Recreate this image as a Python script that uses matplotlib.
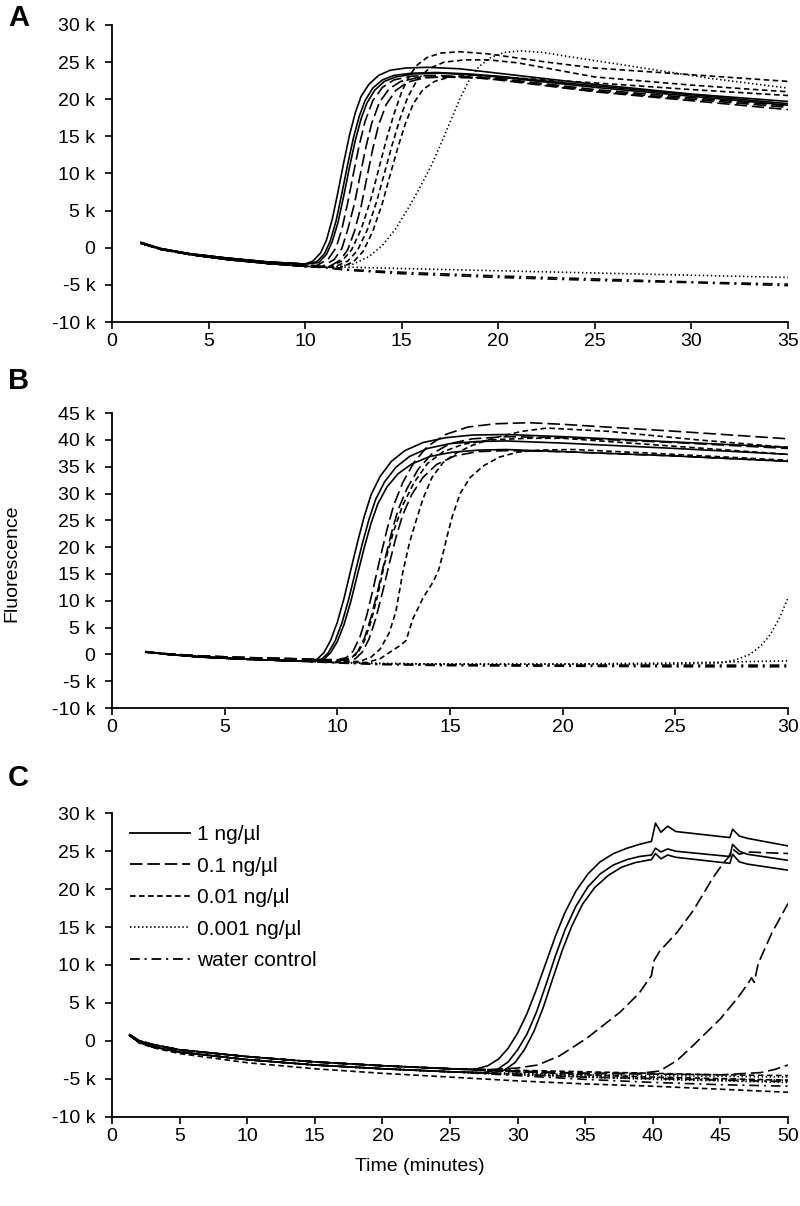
import matplotlib
matplotlib.use("Agg")
import matplotlib.pyplot as plt
from matplotlib.ticker import FuncFormatter, MultipleLocator

plt.rcParams['font.family'] = ['Liberation Sans', 'DejaVu Sans']
plt.rcParams['lines.scale_dashes'] = False

# fluorescence values in thousands, time in minutes

# ---------- panel A ----------
a_base_1 = [(1.5, 0.7), (2.5, -0.1), (4, -0.8), (6, -1.4), (8, -1.9), (10, -2.2)]
a_base_2 = [(1.5, 0.6), (2.5, -0.2), (4, -0.9), (6, -1.6), (8, -2.1), (10, -2.5)]

a_solid_1 = a_base_1 + [(10.4, -1.8), (10.8, -0.7), (11.1, 1.0), (11.4, 3.8), (11.7, 7.5), (12.0, 11.5),
                        (12.3, 15.2), (12.6, 18.2), (12.9, 20.4), (13.3, 22.0), (13.8, 23.2), (14.4, 23.9),
                        (15.2, 24.2), (16.3, 24.3), (18, 24.1), (20, 23.5), (25, 22.0), (30, 20.7), (35, 19.7)]
a_solid_2 = a_base_1 + [(10.6, -1.9), (11.0, -0.8), (11.3, 0.9), (11.6, 3.6), (11.9, 7.3), (12.2, 11.2),
                        (12.5, 14.8), (12.8, 17.7), (13.1, 19.8), (13.5, 21.5), (14.0, 22.6), (14.6, 23.2),
                        (15.5, 23.5), (16.8, 23.6), (18.5, 23.4), (20, 23.1), (25, 21.8), (30, 20.6), (35, 19.4)]
a_solid_3 = a_base_1 + [(10.7, -2.0), (11.1, -0.9), (11.4, 0.8), (11.7, 3.4), (12.0, 7.0), (12.3, 10.9),
                        (12.6, 14.5), (12.9, 17.4), (13.2, 19.5), (13.6, 21.2), (14.1, 22.4), (14.7, 23.0),
                        (15.6, 23.4), (17, 23.5), (18.5, 23.3), (20, 23.0), (25, 21.6), (30, 20.4), (35, 19.2)]
a_ldash_1 = a_base_2 + [(10.6, -2.4), (11.2, -1.5), (11.6, 0.0), (11.9, 2.5), (12.2, 6.0), (12.5, 10.0),
                        (12.8, 13.8), (13.1, 17.0), (13.5, 19.8), (14.0, 21.6), (14.6, 22.6), (15.5, 23.1),
                        (16.8, 23.2), (18.5, 23.0), (20, 22.6), (25, 21.0), (30, 19.8), (35, 18.6)]
a_ldash_2 = a_base_2 + [(10.9, -2.5), (11.5, -1.6), (11.9, -0.1), (12.2, 2.4), (12.55, 5.9), (12.85, 9.8),
                        (13.15, 13.6), (13.45, 16.8), (13.85, 19.6), (14.35, 21.4), (14.95, 22.4), (15.8, 22.9),
                        (17, 23.0), (18.5, 22.9), (20, 22.7), (25, 21.1), (30, 20.0), (35, 18.9)]
a_ldash_3 = a_base_2 + [(11.2, -2.6), (11.8, -1.7), (12.2, -0.3), (12.55, 2.2), (12.9, 5.6), (13.2, 9.5),
                        (13.5, 13.3), (13.8, 16.5), (14.2, 19.3), (14.7, 21.2), (15.3, 22.3), (16.2, 22.9),
                        (17.5, 23.0), (20, 22.8), (25, 21.3), (30, 20.2), (35, 19.1)]
a_sdash_1 = a_base_2 + [(11.2, -2.6), (11.9, -1.8), (12.4, -0.3), (12.9, 2.5), (13.4, 6.5), (13.8, 10.5),
                        (14.2, 14.5), (14.6, 18.0), (15.0, 21.0), (15.4, 23.2), (15.8, 24.6), (16.3, 25.6),
                        (17.0, 26.2), (18.0, 26.4), (19.5, 26.1), (22.5, 25.0), (25, 24.2), (30, 23.3), (35, 22.4)]
a_sdash_2 = a_base_2 + [(11.5, -2.6), (12.2, -1.8), (12.7, -0.4), (13.2, 2.3), (13.7, 6.2), (14.1, 10.0),
                        (14.5, 13.8), (14.9, 17.3), (15.3, 20.2), (15.8, 22.6), (16.4, 24.1), (17.2, 25.0),
                        (18.3, 25.3), (19.5, 25.3), (21, 24.9), (25, 23.0), (30, 21.9), (35, 21.0)]
a_sdash_3 = a_base_2 + [(11.8, -2.7), (12.5, -1.9), (13.0, -0.5), (13.5, 2.2), (14.0, 6.0), (14.4, 9.8),
                        (14.8, 13.5), (15.2, 16.8), (15.6, 19.4), (16.1, 21.3), (16.7, 22.4), (17.5, 23.0),
                        (18.5, 23.2), (20, 23.0), (25, 22.2), (30, 21.3), (35, 20.5)]
a_dot_1 = a_base_2 + [(11.5, -2.6), (12.5, -2.2), (13.3, -1.2), (14.0, 0.3), (14.7, 2.6), (15.4, 5.6),
                      (16.0, 8.4), (16.5, 10.9), (17.0, 13.8), (17.5, 16.9), (18.0, 20.0), (18.5, 22.6),
                      (19.0, 24.4), (19.6, 25.6), (20.3, 26.3), (21.2, 26.5), (22.3, 26.3), (23.5, 25.8),
                      (25, 25.2), (28, 24.0), (31, 22.8), (35, 21.5)]
a_dot_2 = a_base_2 + [(12, -2.6), (15, -2.8), (20, -3.1), (25, -3.4), (30, -3.7), (35, -4.0)]
a_dashdot_1 = a_base_1 + [(12, -3.0), (15, -3.5), (20, -4.0), (25, -4.4), (30, -4.7), (35, -5.1)]
a_dashdot_2 = a_base_2 + [(12, -2.9), (15, -3.3), (20, -3.8), (25, -4.2), (30, -4.6), (35, -4.9)]

# ---------- panel B ----------
b_base_1 = [(1.5, 0.5), (2.5, 0.0), (4, -0.5), (6, -0.9), (8, -1.2)]
b_base_2 = [(1.5, 0.4), (2.5, 0.1), (4, -0.3), (6, -0.6), (8, -0.8)]

b_solid_1 = b_base_1 + [(8.7, -1.3), (9.1, -0.9), (9.4, 0.3), (9.7, 2.6), (10.0, 6.0), (10.3, 10.5),
                        (10.6, 15.8), (10.9, 21.0), (11.2, 25.8), (11.5, 29.8), (11.9, 33.2), (12.4, 36.0),
                        (13.0, 38.0), (13.8, 39.5), (14.8, 40.4), (16, 40.9), (17.5, 41.0), (20, 40.6),
                        (25, 39.6), (30, 38.6)]
b_solid_2 = b_base_1 + [(8.9, -1.3), (9.3, -0.9), (9.6, 0.3), (9.9, 2.5), (10.2, 5.8), (10.5, 10.2),
                        (10.8, 15.4), (11.1, 20.5), (11.4, 25.1), (11.7, 28.9), (12.1, 32.2), (12.6, 34.9),
                        (13.2, 36.9), (14.0, 38.4), (15.0, 39.3), (16.2, 39.7), (17.5, 39.8), (20, 39.4),
                        (25, 38.4), (30, 37.3)]
b_solid_3 = b_base_1 + [(9.0, -1.3), (9.4, -0.9), (9.7, 0.3), (10.0, 2.4), (10.3, 5.6), (10.6, 9.9),
                        (10.9, 15.0), (11.2, 20.0), (11.5, 24.5), (11.8, 28.1), (12.2, 31.2), (12.7, 33.7),
                        (13.3, 35.5), (14.1, 36.9), (15.1, 37.7), (16.3, 38.1), (17.5, 38.2), (20, 37.8),
                        (25, 37.0), (30, 36.0)]
b_ldash_1 = b_base_2 + [(10, -1.0), (10.4, -0.6), (10.7, 0.6), (11.0, 3.2), (11.3, 7.2), (11.6, 12.4),
                        (11.9, 18.0), (12.2, 23.2), (12.5, 27.8), (12.9, 32.0), (13.4, 35.8), (14.0, 38.8),
                        (14.8, 41.0), (15.8, 42.4), (17, 43.0), (18.5, 43.2), (20, 42.9), (25, 41.6), (30, 40.2)]
b_ldash_2 = b_base_2 + [(10, -1.1), (10.6, -0.7), (10.9, 0.5), (11.2, 3.0), (11.5, 7.0), (11.8, 12.0),
                        (12.1, 17.5), (12.4, 22.6), (12.7, 27.0), (13.1, 31.0), (13.6, 34.6), (14.2, 37.4),
                        (15.0, 39.3), (16.0, 40.2), (17.5, 40.6), (20, 40.4), (25, 39.5), (30, 38.4)]
b_ldash_3 = b_base_2 + [(10, -1.2), (10.8, -0.8), (11.1, 0.4), (11.4, 2.8), (11.7, 6.6), (12.0, 11.5),
                        (12.3, 16.8), (12.6, 21.8), (12.9, 26.0), (13.3, 29.8), (13.8, 33.0), (14.4, 35.4),
                        (15.2, 37.0), (16.2, 37.8), (17.5, 38.0), (20, 37.8), (25, 37.0), (30, 36.0)]
b_sdash_1 = b_base_1 + [(10, -1.4), (10.5, -1.0), (10.9, 0.2), (11.2, 2.5), (11.5, 6.2), (11.8, 11.2),
                        (12.1, 17.0), (12.5, 23.0), (12.9, 27.8), (13.4, 32.0), (14.0, 35.6), (14.7, 37.8),
                        (15.6, 39.2), (16.8, 40.0), (18.5, 40.3), (20, 40.3), (25, 38.8), (30, 37.3)]
b_sdash_2 = b_base_1 + [(10, -1.4), (11.0, -1.3), (11.5, -0.5), (11.9, 1.0), (12.3, 4.0), (12.6, 8.0),
                        (12.9, 15.2), (13.2, 20.8), (13.5, 25.0), (13.8, 29.0), (14.2, 33.0), (14.7, 35.8),
                        (15.3, 37.6), (16.0, 39.0), (17.0, 40.4), (18.2, 41.6), (19.3, 42.2), (22, 41.6),
                        (26, 40.0), (30, 38.6)]
b_sdash_3 = b_base_1 + [(10, -1.5), (11.3, -1.5), (11.9, -0.8), (12.4, 0.6), (12.8, 1.7), (13.05, 2.6),
                        (13.36, 6.7), (13.8, 10.5), (14.25, 13.5), (14.5, 15.8), (14.7, 19.0), (14.9, 22.5),
                        (15.1, 25.7), (15.45, 30.0), (15.9, 33.0), (16.5, 35.2), (17.2, 36.8), (18.0, 37.7),
                        (19, 38.1), (20.5, 38.2), (24, 37.5), (30, 36.2)]
b_dot_1 = b_base_1 + [(10, -1.5), (12, -1.7), (15, -1.8), (20, -1.8), (25, -1.8), (27.0, -1.6),
                      (27.7, -1.0), (28.3, 0.0), (28.8, 1.6), (29.2, 3.6), (29.6, 6.6), (30, 10.5)]
b_dot_2 = b_base_1 + [(10, -1.5), (12, -1.7), (15, -1.8), (20, -1.8), (25, -1.6), (30, -1.2)]
b_dashdot_1 = b_base_1 + [(10, -1.6), (12, -1.9), (15, -2.1), (20, -2.2), (25, -2.3), (30, -2.3)]
b_dashdot_2 = b_base_1 + [(10, -1.5), (12, -1.8), (15, -1.9), (20, -2.0), (25, -2.0), (30, -2.0)]

# ---------- panel C ----------
c_base_1 = [(1.3, 0.8), (2, 0.0), (3, -0.5), (5, -1.2), (10, -2.1), (15, -2.8), (20, -3.3), (25, -3.7)]
c_base_2 = [(1.3, 0.7), (2, -0.2), (3, -0.8), (5, -1.5), (10, -2.5), (15, -3.2), (20, -3.7), (25, -4.1)]

c_solid_1 = c_base_1 + [(26.8, -3.8), (27.8, -3.3), (28.6, -2.4), (29.3, -1.0), (30.0, 1.0), (30.7, 3.6),
                        (31.4, 6.8), (32.1, 10.3), (32.8, 13.8), (33.5, 16.9), (34.3, 19.7), (35.2, 22.0),
                        (36.1, 23.6), (37.1, 24.7), (38.1, 25.4), (39.0, 25.9), (39.9, 26.3), (40.2, 28.7),
                        (40.6, 27.5), (41.1, 28.3), (41.7, 27.6), (45.7, 26.8), (45.9, 27.9), (46.4, 27.0),
                        (47, 26.7), (50, 25.7)]
c_solid_2 = c_base_2 + [(27.5, -4.2), (28.5, -3.8), (29.3, -2.8), (30.0, -1.2), (30.7, 0.9), (31.4, 3.8),
                        (32.1, 7.4), (32.8, 11.2), (33.5, 14.6), (34.3, 17.7), (35.2, 20.3), (36.1, 22.0),
                        (37.1, 23.2), (38.1, 23.9), (39.0, 24.3), (39.9, 24.5), (40.2, 25.4), (40.6, 24.9),
                        (41.1, 25.3), (41.7, 25.0), (45.7, 24.3), (45.9, 25.9), (46.4, 25.0), (47, 24.6),
                        (50, 23.8)]
c_solid_3 = c_base_2 + [(28, -4.3), (29, -3.9), (29.8, -2.9), (30.5, -1.2), (31.2, 1.2), (31.9, 4.4),
                        (32.6, 8.2), (33.3, 11.9), (34.0, 15.1), (34.8, 18.0), (35.7, 20.2), (36.7, 21.8),
                        (37.7, 22.9), (38.7, 23.5), (39.9, 23.9), (40.2, 24.7), (40.6, 24.0), (41.1, 24.5),
                        (41.7, 24.2), (45.7, 23.4), (45.9, 24.6), (46.4, 23.6), (47, 23.3), (50, 22.5)]
c_ldash_1 = c_base_1 + [(28, -3.8), (30, -3.6), (31.5, -3.2), (33.1, -2.0), (35.1, 0.3), (37.6, 3.8),
                        (39.0, 6.3), (39.9, 8.6), (40.1, 10.6), (40.5, 11.8), (41.8, 14.3), (43.0, 17.2),
                        (44.45, 21.5), (45.2, 23.4), (45.6, 24.2), (45.9, 25.3), (46.4, 24.6), (47, 24.9),
                        (50, 24.7)]
c_ldash_2 = c_base_1 + [(30, -4.0), (35, -4.3), (39, -4.3), (40.5, -4.0), (41.8, -2.6), (43.0, -0.6),
                        (45.0, 2.9), (46.3, 5.7), (47.1, 7.7), (47.3, 8.3), (47.5, 7.7), (47.8, 10.2),
                        (48.8, 14.2), (50, 18.1)]
c_ldash_3 = c_base_1 + [(30, -4.1), (35, -4.3), (40, -4.4), (45, -4.5), (48, -4.2), (49, -3.8), (50, -3.2)]
c_sdash_1 = [(1.3, 0.7), (2, -0.3), (3, -0.9), (5, -1.7), (10, -2.9), (15, -3.7), (20, -4.3), (25, -4.8),
             (30, -5.3), (35, -5.7), (40, -6.0), (45, -6.4), (50, -6.8)]
c_sdash_2 = c_base_1 + [(30, -4.1), (35, -4.5), (40, -4.8), (45, -5.0), (50, -5.2)]
c_sdash_3 = c_base_1 + [(30, -3.9), (35, -4.1), (40, -4.3), (45, -4.5), (50, -4.6)]
c_dot_1 = c_base_2 + [(30, -4.3), (35, -4.5), (40, -4.6), (45, -4.7), (50, -4.8)]
c_dot_2 = c_base_2 + [(30, -4.4), (35, -4.7), (40, -4.9), (45, -5.1), (50, -5.2)]
c_dot_3 = c_base_2 + [(30, -4.5), (35, -4.8), (40, -5.1), (45, -5.3), (50, -5.5)]
c_dashdot_1 = c_base_2 + [(30, -4.4), (35, -4.8), (40, -5.0), (45, -5.2), (50, -5.4)]
c_dashdot_2 = c_base_2 + [(30, -4.6), (35, -5.1), (40, -5.5), (45, -5.8), (50, -6.0)]

legend_labels = ['1 ng/\u00b5l', '0.1 ng/\u00b5l', '0.01 ng/\u00b5l', '0.001 ng/\u00b5l', 'water control']
panel_letters = ['A', 'B', 'C']
x_limits = [35, 30, 50]
y_limits = [(-10, 30), (-10, 45), (-10, 30)]

styles = {
    'solid': dict(linestyle='-'),
    'ldash': dict(dashes=(9, 3.5)),
    'sdash': dict(dashes=(4, 2.5)),
    'dot': dict(dashes=(1, 1.9)),
    'dashdot': dict(dashes=(7, 3.5, 1.5, 3.5)),
}
style_order = ['solid', 'ldash', 'sdash', 'dot', 'dashdot']

panels = [
    [(a_solid_1, 'solid'), (a_solid_2, 'solid'), (a_solid_3, 'solid'),
     (a_ldash_1, 'ldash'), (a_ldash_2, 'ldash'), (a_ldash_3, 'ldash'),
     (a_sdash_1, 'sdash'), (a_sdash_2, 'sdash'), (a_sdash_3, 'sdash'),
     (a_dot_1, 'dot'), (a_dot_2, 'dot'), (a_dashdot_1, 'dashdot'), (a_dashdot_2, 'dashdot')],
    [(b_solid_1, 'solid'), (b_solid_2, 'solid'), (b_solid_3, 'solid'),
     (b_ldash_1, 'ldash'), (b_ldash_2, 'ldash'), (b_ldash_3, 'ldash'),
     (b_sdash_1, 'sdash'), (b_sdash_2, 'sdash'), (b_sdash_3, 'sdash'),
     (b_dot_1, 'dot'), (b_dot_2, 'dot'), (b_dashdot_1, 'dashdot'), (b_dashdot_2, 'dashdot')],
    [(c_solid_1, 'solid'), (c_solid_2, 'solid'), (c_solid_3, 'solid'),
     (c_ldash_1, 'ldash'), (c_ldash_2, 'ldash'), (c_ldash_3, 'ldash'),
     (c_sdash_1, 'sdash'), (c_sdash_2, 'sdash'), (c_sdash_3, 'sdash'),
     (c_dot_1, 'dot'), (c_dot_2, 'dot'), (c_dot_3, 'dot'),
     (c_dashdot_1, 'dashdot'), (c_dashdot_2, 'dashdot')],
]

# axes boxes in figure fractions (left, bottom, width, height)
boxes = [[0.140, 0.7330, 0.845, 0.2463],
         [0.140, 0.4129, 0.845, 0.2446],
         [0.140, 0.0742, 0.845, 0.2514]]
letter_y = [0.985, 0.684, 0.355]


def k_fmt(v, pos):
    if v == 0:
        return '0'
    return '%d k' % v


fig = plt.figure(figsize=(8, 12.06), dpi=100)

for i in range(3):
    ax = fig.add_axes(boxes[i])
    for pts, st in panels[i]:
        t = [p[0] for p in pts]
        v = [p[1] for p in pts]
        ax.plot(t, v, color='black', lw=1.2, **styles[st])
    ax.set_xlim(0, x_limits[i])
    ax.set_ylim(*y_limits[i])
    ax.xaxis.set_major_locator(MultipleLocator(5))
    ax.yaxis.set_major_locator(MultipleLocator(5))
    ax.yaxis.set_major_formatter(FuncFormatter(k_fmt))
    for s in ['top', 'right']:
        ax.spines[s].set_visible(False)
    for s in ['left', 'bottom']:
        ax.spines[s].set_linewidth(1.3)
    ax.tick_params(direction='out', length=5, width=1.2, labelsize=14)
    ax.tick_params(axis='y', pad=7)
    ax.tick_params(axis='x', pad=3)
    fig.text(0.010, letter_y[i], panel_letters[i], fontsize=21, fontweight='bold',
             ha='left', va='center')
    if i == 2:
        handles = [plt.Line2D([], [], color='black', lw=1.3, **styles[s]) for s in style_order]
        ax.legend(handles, legend_labels, loc='upper left', bbox_to_anchor=(0.0266, 0.961),
                  frameon=False, fontsize=15, handlelength=2.9, handletextpad=0.34,
                  labelspacing=0.6, borderpad=0, borderaxespad=0)

fig.text(0.015, 0.533, 'Fluorescence', rotation=90, fontsize=14, ha='center', va='center')
fig.text(0.525, 0.033, 'Time (minutes)', fontsize=14, ha='center', va='center')

fig.savefig('out.png', dpi=100)
